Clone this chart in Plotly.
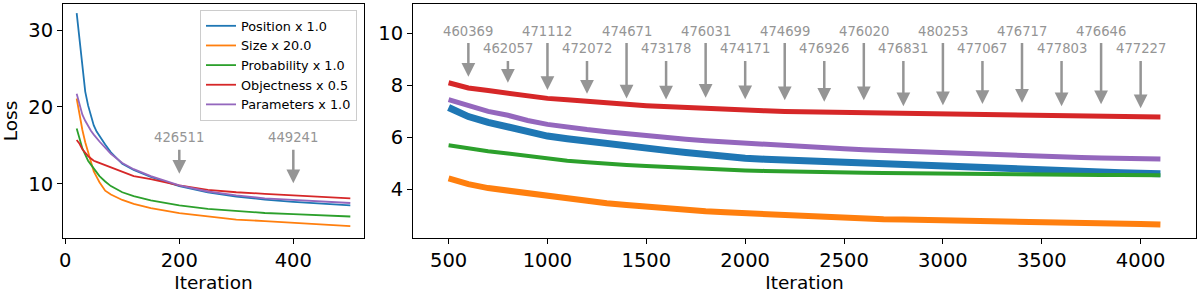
import plotly.graph_objects as go

# ---------------- data ----------------
names = ["Position x 1.0", "Size x 20.0", "Probability x 1.0", "Objectness x 0.5", "Parameters x 1.0"]
colors = ["#1f77b4", "#ff7f0e", "#2ca02c", "#d62728", "#9467bd"]

# left panel (iterations 20..500)
it_left = [20, 25, 30, 35, 40, 45, 50, 55, 60, 70, 80, 100, 120, 150, 200, 250, 300, 350, 400, 450, 500]
pos_left = [32.2, 28.8, 25.0, 22.0, 20.2, 18.7, 17.6, 16.8, 16.2, 15.1, 14.1, 12.6, 11.8, 10.9, 9.7, 8.9, 8.35, 7.95, 7.65, 7.4, 7.2]
size_left = [21.1, 19.0, 17.0, 15.4, 14.1, 12.8, 11.6, 10.9, 10.2, 9.1, 8.6, 7.9, 7.4, 6.85, 6.2, 5.75, 5.35, 5.15, 4.95, 4.75, 4.5]
prob_left = [17.2, 15.8, 14.6, 13.8, 13.0, 12.5, 12.0, 11.5, 11.0, 10.3, 9.7, 8.9, 8.4, 7.85, 7.2, 6.75, 6.45, 6.2, 6.05, 5.9, 5.75]
obj_left = [15.7, 15.2, 14.5, 14.0, 13.6, 13.3, 13.0, 12.85, 12.7, 12.4, 12.1, 11.5, 11.0, 10.6, 9.8, 9.2, 8.9, 8.7, 8.5, 8.3, 8.1]
par_left = [21.7, 20.2, 19.0, 18.2, 17.5, 16.9, 16.4, 15.9, 15.5, 14.7, 13.9, 12.7, 11.9, 11.0, 9.8, 9.0, 8.5, 8.1, 7.9, 7.7, 7.5]

# right panel (iterations 500..4100)
it_right = list(range(500, 4101, 100))
pos_right = [7.15, 6.8, 6.58, 6.4, 6.2, 6.05, 5.95, 5.85, 5.75, 5.65, 5.58, 5.5, 5.42, 5.33, 5.25, 5.2, 5.16, 5.13, 5.1,
             5.05, 5.0, 4.98, 4.95, 4.92, 4.9, 4.87, 4.83, 4.8, 4.77, 4.75, 4.72, 4.7, 4.68, 4.66, 4.64, 4.62, 4.6]
size_right = [4.42, 4.2, 4.05, 3.95, 3.82, 3.72, 3.62, 3.55, 3.47, 3.4, 3.33, 3.27, 3.21, 3.16, 3.12, 3.08, 3.04, 3.0, 2.96,
              2.92, 2.89, 2.87, 2.85, 2.84, 2.83, 2.82, 2.81, 2.79, 2.78, 2.77, 2.76, 2.74, 2.72, 2.7, 2.69, 2.67, 2.65]
prob_right = [5.7, 5.58, 5.47, 5.38, 5.28, 5.18, 5.1, 5.04, 4.98, 4.94, 4.9, 4.86, 4.82, 4.79, 4.76, 4.73, 4.71, 4.69, 4.68,
              4.66, 4.65, 4.64, 4.63, 4.62, 4.62, 4.61, 4.6, 4.6, 4.59, 4.58, 4.58, 4.57, 4.56, 4.55, 4.55, 4.54, 4.54]
obj_right = [8.1, 7.9, 7.8, 7.7, 7.6, 7.5, 7.45, 7.38, 7.32, 7.27, 7.22, 7.18, 7.14, 7.1, 7.07, 7.04, 7.02, 7.0, 6.99,
             6.98, 6.97, 6.96, 6.95, 6.94, 6.93, 6.92, 6.91, 6.9, 6.89, 6.87, 6.86, 6.85, 6.84, 6.82, 6.81, 6.8, 6.78]
par_right = [7.45, 7.2, 7.0, 6.85, 6.65, 6.5, 6.38, 6.3, 6.22, 6.14, 6.07, 6.0, 5.93, 5.87, 5.82, 5.77, 5.73, 5.7, 5.65,
             5.6, 5.56, 5.52, 5.49, 5.46, 5.43, 5.41, 5.38, 5.35, 5.33, 5.3, 5.27, 5.25, 5.23, 5.21, 5.2, 5.18, 5.17]

# annotations
left_ann_x = [200, 400]
left_ann_tip = [11.3, 10.08]
left_ann_text = ["426511", "449241"]

right_ann_x = list(range(600, 4001, 200))
right_ann_tip = [8.33, 8.10, 7.82, 7.68, 7.50, 7.46, 7.52, 7.47, 7.43, 7.37, 7.43, 7.20, 7.24, 7.28, 7.33, 7.20, 7.27, 7.12]
right_ann_text = ["460369", "462057", "471112", "472072", "474671", "473178", "476031", "474171", "474699",
                  "476926", "476020", "476831", "480253", "477067", "476717", "477803", "476646", "477227"]

# ---------------- figure ----------------
W, H = 1200, 293
FONT = "DejaVu Sans"
fig = go.Figure()

left_series = [pos_left, size_left, prob_left, obj_left, par_left]
right_series = [pos_right, size_right, prob_right, obj_right, par_right]
right_widths = [7, 6, 4, 5, 5]

for name, col, ys in zip(names, colors, left_series):
    fig.add_trace(go.Scatter(x=it_left, y=ys, mode="lines", name=name,
                             line=dict(color=col, width=1.8), xaxis="x", yaxis="y"))
for name, col, ys, w in zip(names, colors, right_series, right_widths):
    fig.add_trace(go.Scatter(x=it_right, y=ys, mode="lines", name=name, showlegend=False,
                             line=dict(color=col, width=w), xaxis="x2", yaxis="y2"))


def px_x(p):
    return p / W


def px_y(p):
    return 1 - p / H


axis_common = dict(showline=True, linecolor="black", linewidth=1, mirror=True, ticks="outside",
                   ticklen=5, tickwidth=1, tickcolor="black", showgrid=False, zeroline=False,
                   tickfont=dict(family=FONT, size=19.5, color="black"), automargin=False)

fig.update_layout(
    width=W, height=H, margin=dict(l=0, r=0, t=0, b=0),
    paper_bgcolor="white", plot_bgcolor="white",
    font=dict(family=FONT, color="black"),
    xaxis=dict(domain=[px_x(63), px_x(364)], range=[-4, 524], anchor="y",
               tickvals=[0, 200, 400],
               title=dict(text="Iteration", font=dict(family=FONT, size=18.5), standoff=1), **axis_common),
    yaxis=dict(domain=[px_y(238), px_y(4)], range=[2.95, 33.39], anchor="x",
               tickvals=[10, 20, 30],
               title=dict(text="Loss", font=dict(family=FONT, size=18.5), standoff=8), **axis_common),
    xaxis2=dict(domain=[px_x(413), px_x(1196)], range=[320, 4280], anchor="y2",
                tickvals=list(range(500, 4001, 500)),
                title=dict(text="Iteration", font=dict(family=FONT, size=18.5), standoff=1), **axis_common),
    yaxis2=dict(domain=[px_y(238), px_y(4)], range=[2.13, 11.13], anchor="x2",
                tickvals=[4, 6, 8, 10], **axis_common),
    legend=dict(x=px_x(357), y=px_y(10), xanchor="right", yanchor="top",
                bgcolor="rgba(255,255,255,0.8)", bordercolor="#cccccc", borderwidth=1,
                font=dict(family=FONT, size=12.8, color="black"), tracegroupgap=0, itemwidth=30),
    showlegend=True,
)

GRAY = "#959595"
anns = []
for x, tip, txt in zip(left_ann_x, left_ann_tip, left_ann_text):
    anns.append(dict(x=x, y=tip, ax=x, ay=16.0, xref="x", yref="y", axref="x", ayref="y",
                     text=txt, showarrow=True, arrowhead=2, arrowsize=1.1, arrowwidth=2.5,
                     arrowcolor=GRAY, startstandoff=3,
                     font=dict(family=FONT, size=13.2, color=GRAY)))
for i, (x, tip, txt) in enumerate(zip(right_ann_x, right_ann_tip, right_ann_text)):
    text_y = 10.09 if i % 2 == 0 else 9.4
    anns.append(dict(x=x, y=tip, ax=x, ay=text_y, xref="x2", yref="y2", axref="x2", ayref="y2",
                     text=txt, showarrow=True, arrowhead=2, arrowsize=1.1, arrowwidth=2.5,
                     arrowcolor=GRAY, startstandoff=3,
                     font=dict(family=FONT, size=13.2, color=GRAY)))
fig.update_layout(annotations=anns)

# remove the default 8px page margin so the figure fills the window exactly
fig.write_html("out.html", config={"displayModeBar": False},
               post_script="document.body.style.margin='0';")
